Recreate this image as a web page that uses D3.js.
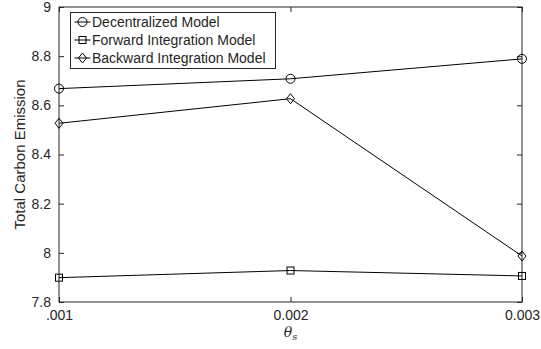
<!DOCTYPE html>
<html>
<head>
<meta charset="utf-8">
<script src="https://cdn.jsdelivr.net/npm/d3@7"></script>
<style>
  body { margin: 0; background: #fff; }
  text { font-family: "Liberation Sans", Arial, sans-serif; fill: #262626; }
</style>
</head>
<body>
<div id="chart"></div>
<script>
// theta_s values on the x axis, one emission value per model
const thetaValues = [0.001, 0.002, 0.003];
const thetaLabels = ['.001', '0.002', '0.003'];
const decentralized = [8.668, 8.708, 8.789];
const forwardIntegration = [7.899, 7.928, 7.906];
const backwardIntegration = [8.527, 8.627, 7.987];
const yTicks = [7.8, 8, 8.2, 8.4, 8.6, 8.8, 9];

const seriesList = [
  { name: 'Decentralized Model', values: decentralized, marker: 'circle' },
  { name: 'Forward Integration Model', values: forwardIntegration, marker: 'square' },
  { name: 'Backward Integration Model', values: backwardIntegration, marker: 'diamond' },
];

const W = 541, H = 349;
const margin = { top: 7, right: 19, bottom: 47, left: 59 };
const innerW = W - margin.left - margin.right;
const innerH = H - margin.top - margin.bottom;

const svg = d3.select('#chart').append('svg')
  .attr('width', W)
  .attr('height', H);

const x = d3.scaleLinear().domain([0.001, 0.003]).range([0, innerW]);
const y = d3.scaleLinear().domain([7.8, 9]).range([innerH, 0]);

const g = svg.append('g').attr('transform', `translate(${margin.left},${margin.top})`);

// axes, matlab style: ticks pointing inward, box all round
const axisColor = '#262626';
function styleAxis(sel) {
  sel.select('.domain').remove();
  sel.selectAll('.tick line').attr('stroke', axisColor);
  sel.selectAll('.tick text').style('font-size', '14px').attr('fill', axisColor);
}

g.append('g')
  .attr('transform', `translate(0,${innerH})`)
  .call(d3.axisBottom(x).tickValues(thetaValues)
    .tickFormat((d, i) => thetaLabels[i]).tickSizeInner(-5).tickPadding(8))
  .call(styleAxis);

g.append('g')
  .call(d3.axisTop(x).tickValues(thetaValues).tickFormat('').tickSizeInner(-5))
  .call(styleAxis);

g.append('g')
  .call(d3.axisLeft(y).tickValues(yTicks).tickFormat(d3.format('~g'))
    .tickSizeInner(-5).tickPadding(8))
  .call(styleAxis);

g.append('g')
  .attr('transform', `translate(${innerW},0)`)
  .call(d3.axisRight(y).tickValues(yTicks).tickFormat('').tickSizeInner(-5))
  .call(styleAxis);

g.append('rect')
  .attr('width', innerW)
  .attr('height', innerH)
  .attr('fill', 'none')
  .attr('stroke', axisColor)
  .attr('stroke-width', 1);

// markers
function drawMarker(sel, type, cx, cy) {
  if (type === 'circle') {
    sel.append('circle').attr('cx', cx).attr('cy', cy).attr('r', 4.5)
      .attr('fill', 'none').attr('stroke', '#000');
  } else if (type === 'square') {
    sel.append('rect').attr('x', cx - 3.5).attr('y', cy - 3.5)
      .attr('width', 7).attr('height', 7)
      .attr('fill', 'none').attr('stroke', '#000');
  } else {
    const s = 5;
    sel.append('path')
      .attr('d', `M${cx},${cy - s}L${cx + 4},${cy}L${cx},${cy + s}L${cx - 4},${cy}Z`)
      .attr('fill', 'none').attr('stroke', '#000');
  }
}

const line = d3.line().x((d, i) => x(thetaValues[i])).y(d => y(d));

seriesList.forEach(s => {
  g.append('path')
    .datum(s.values)
    .attr('d', line)
    .attr('fill', 'none')
    .attr('stroke', '#000')
    .attr('stroke-width', 1);
  const mg = g.append('g');
  s.values.forEach((v, i) => drawMarker(mg, s.marker, x(thetaValues[i]), y(v)));
});

// legend
const legend = svg.append('g').attr('transform', 'translate(70.5,12.5)');
legend.append('rect')
  .attr('width', 205)
  .attr('height', 56)
  .attr('fill', '#fff')
  .attr('stroke', axisColor)
  .attr('stroke-width', 1);

seriesList.forEach((s, i) => {
  const ly = 9.5 + i * 18;
  const row = legend.append('g');
  row.append('line')
    .attr('x1', 4).attr('x2', 20)
    .attr('y1', ly).attr('y2', ly)
    .attr('stroke', '#000');
  drawMarker(row, s.marker, 12, ly);
  row.append('text')
    .attr('x', 21.5).attr('y', ly)
    .attr('dy', '0.35em')
    .style('font-size', '14px')
    .attr('fill', '#000')
    .text(s.name);
});

// axis titles
svg.append('text')
  .attr('transform', `translate(25,${margin.top + innerH / 2}) rotate(-90)`)
  .attr('text-anchor', 'middle')
  .style('font-size', '15px')
  .text('Total Carbon Emission');

const xt = svg.append('text')
  .attr('x', margin.left + innerW / 2)
  .attr('y', 337)
  .attr('text-anchor', 'middle')
  .style('font-family', '"DejaVu Serif", "Liberation Serif", serif')
  .style('font-style', 'italic')
  .style('font-size', '14px');
xt.append('tspan').text('θ');
xt.append('tspan').attr('dy', 3).style('font-size', '10px').text('s');
</script>
</body>
</html>
